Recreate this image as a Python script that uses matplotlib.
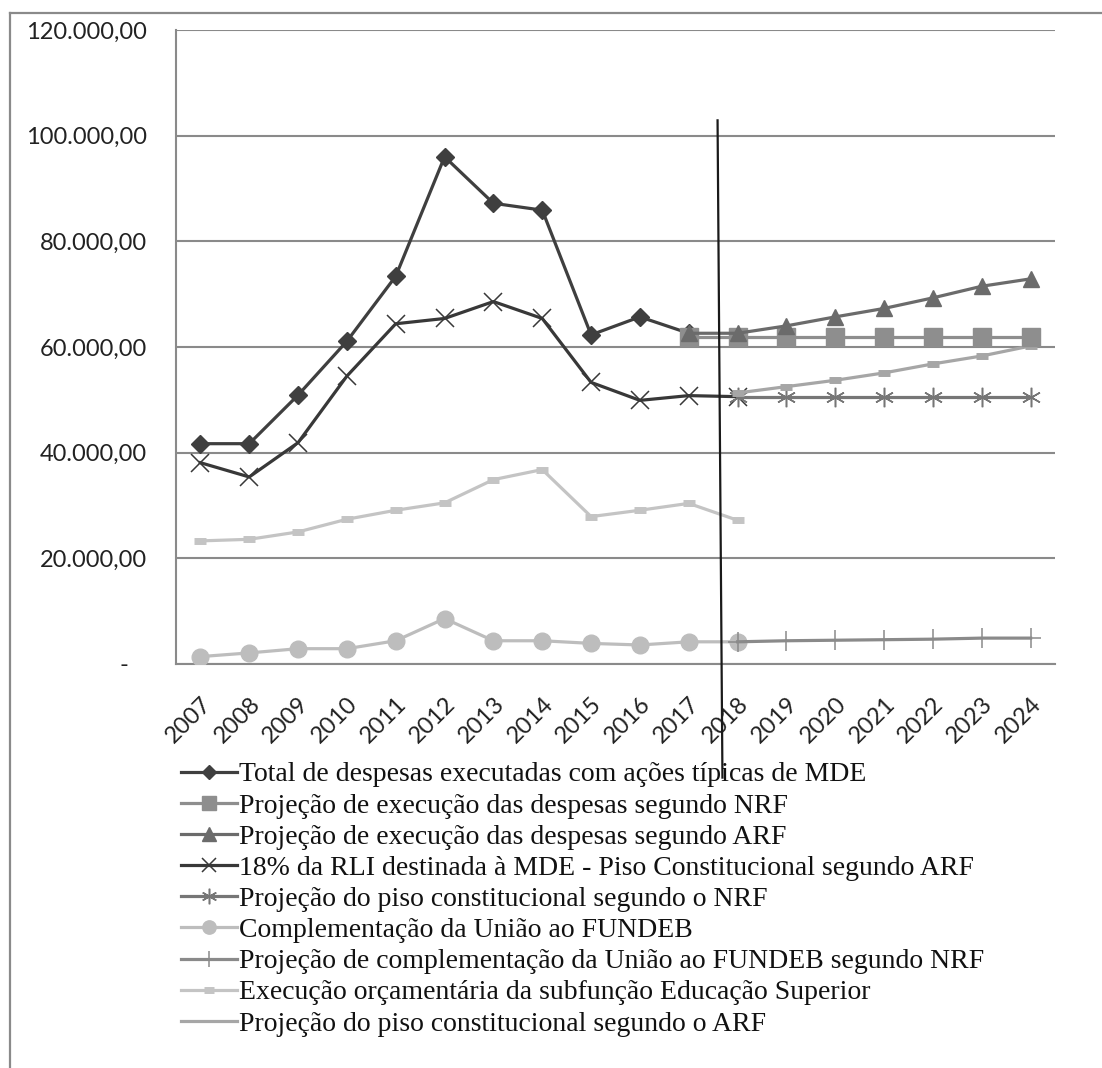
import matplotlib
matplotlib.use("Agg")
import matplotlib.pyplot as plt
from matplotlib.lines import Line2D
import numpy as np

years = [str(y) for y in range(2007, 2025)]

total_mde = [41.7, 41.7, 50.9, 61.1, 73.4, 96.0, 87.2, 85.9, 62.3, 65.7, 62.6]          # 2007-2017
proj_nrf = [61.9, 61.9, 61.9, 61.9, 61.9, 61.9, 61.9, 61.9]                               # 2017-2024
proj_arf = [62.6, 62.6, 64.0, 65.7, 67.3, 69.3, 71.5, 72.9]                               # 2017-2024
rli_18 = [38.1, 35.4, 41.9, 54.5, 64.4, 65.4, 68.6, 65.4, 53.3, 49.9, 50.8, 50.6]         # 2007-2018
piso_nrf = [50.6, 50.6, 50.6, 50.6, 50.6, 50.6, 50.6]                                     # 2018-2024
fundeb = [1.4, 2.1, 2.9, 2.9, 4.4, 8.6, 4.4, 4.4, 3.9, 3.6, 4.2, 4.2]                     # 2007-2018
fundeb_nrf = [4.2, 4.4, 4.5, 4.6, 4.7, 4.9, 4.9]                                          # 2018-2024
educ_sup = [23.3, 23.6, 25.0, 27.4, 29.1, 30.5, 34.9, 36.8, 27.9, 29.1, 30.4, 27.2]       # 2007-2018
piso_arf = [51.3, 52.5, 53.7, 55.1, 56.8, 58.3, 60.2]                                     # 2018-2024

labels = [
    "Total de despesas executadas com ações típicas de MDE",
    "Projeção de execução das despesas segundo NRF",
    "Projeção de execução das despesas segundo ARF",
    "18% da RLI destinada à MDE - Piso Constitucional segundo ARF",
    "Projeção do piso constitucional segundo o NRF",
    "Complementação da União ao FUNDEB",
    "Projeção de complementação da União ao FUNDEB segundo NRF",
    "Execução orçamentária da subfunção Educação Superior",
    "Projeção do piso constitucional segundo o ARF",
]

W, H = 1102, 1068
fig = plt.figure(figsize=(W / 100, H / 100), dpi=100)
fig.patch.set_facecolor("white")

# outer frame (cropped on right and bottom)
fig.add_artist(Line2D([10 / W, 1.0], [1 - 13 / H, 1 - 13 / H], color="#8a8a8a", lw=1.6))
fig.add_artist(Line2D([10 / W, 10 / W], [0.0, 1 - 13 / H], color="#8a8a8a", lw=1.6))

L, R, T, B = 176, 1055, 30, 664
ax = fig.add_axes([L / W, 1 - B / H, (R - L) / W, (B - T) / H])

def idx(start_year, n):
    s = int(start_year) - 2007
    return np.arange(s, s + n)

def k(vals):
    return np.array(vals) * 1000.0

lw = 2.3
s_total = dict(color="#3f3f3f", marker="D", ms=9, lw=lw)
s_nrf = dict(color="#8e8e8e", marker="s", ms=13, lw=lw)
s_arf = dict(color="#6b6b6b", marker="^", ms=12, lw=lw)
s_rli = dict(color="#383838", marker="x", ms=13, mew=1.1, lw=lw)
s_pnrf = dict(color="#767676", marker=(6, 2, 0), ms=14, mew=1.1, lw=lw)
s_fun = dict(color="#bdbdbd", marker="o", ms=12, lw=lw)
s_fnrf = dict(color="#8a8a8a", marker="+", ms=14, mew=1.1, lw=lw)
s_edu = dict(color="#c4c4c4", marker="_", ms=9, mew=5, lw=lw)
s_parf = dict(color="#a6a6a6", marker="_", ms=9, mew=5, lw=lw)

ax.plot(idx(2007, len(educ_sup)), k(educ_sup), zorder=3, **s_edu)
ax.plot(idx(2007, len(fundeb)), k(fundeb), zorder=3, **s_fun)
ax.plot(idx(2018, len(fundeb_nrf)), k(fundeb_nrf), zorder=3, **s_fnrf)
ax.plot(idx(2007, len(rli_18)), k(rli_18), zorder=3, **s_rli)
ax.plot(idx(2018, len(piso_nrf)), k(piso_nrf), zorder=4, **s_pnrf)
ax.plot(idx(2018, len(piso_arf)), k(piso_arf), zorder=4, **s_parf)
ax.plot(idx(2007, len(total_mde)), k(total_mde), zorder=5, **s_total)
ax.plot(idx(2017, len(proj_nrf)), k(proj_nrf), zorder=5, **s_nrf)
ax.plot(idx(2017, len(proj_arf)), k(proj_arf), zorder=6, **s_arf)

ax.set_xlim(-0.5, 17.5)
ax.set_ylim(0, 120000)
ax.set_yticks(np.arange(0, 120001, 20000))

def fmt(v):
    if v == 0:
        return "-   "
    s = f"{v:,.2f}"
    return s.replace(",", "X").replace(".", ",").replace("X", ".")

ax.set_yticklabels([fmt(v) for v in ax.get_yticks()], fontfamily="Lato", fontsize=17, color="#222222")
ax.set_xticks(range(len(years)))
ax.set_xticklabels(years, rotation=45, ha="right", rotation_mode="anchor",
                   fontfamily="Lato", fontsize=17, color="#222222")
ax.tick_params(axis="y", length=0, pad=21)
ax.tick_params(axis="x", length=0, pad=21)

ax.grid(axis="y", color="#8a8a8a", lw=1.5)
ax.set_axisbelow(True)
for side in ["top", "right"]:
    ax.spines[side].set_visible(False)
for side in ["left", "bottom"]:
    ax.spines[side].set_color("#8a8a8a")
    ax.spines[side].set_linewidth(1.5)

# hand-drawn divider line between executed and projected
ax.add_line(Line2D([10.59, 10.69], [102900, -21500], color="#1a1a1a", lw=1.6,
                   clip_on=False, zorder=7))

styles = [s_total, s_nrf, s_arf, s_rli, s_pnrf, s_fun, s_fnrf, s_edu, None]
handles = []
for st in styles:
    if st is None:
        handles.append(Line2D([], [], color="#a6a6a6", lw=lw))
    else:
        d = dict(st)
        d["ms"] = d["ms"] * 0.8
        handles.append(Line2D([], [], **d))

leg = fig.legend(handles, labels, loc="upper left",
                 bbox_to_anchor=(181 / W, 1 - 762 / H), bbox_transform=fig.transFigure,
                 frameon=False, borderpad=0, borderaxespad=0,
                 prop={"family": "Liberation Serif", "size": 20},
                 handlelength=2.0, handletextpad=0.1, labelspacing=0.205)
for t in leg.get_texts():
    t.set_color("#111111")

fig.savefig("out.png", dpi=100, facecolor="white")
